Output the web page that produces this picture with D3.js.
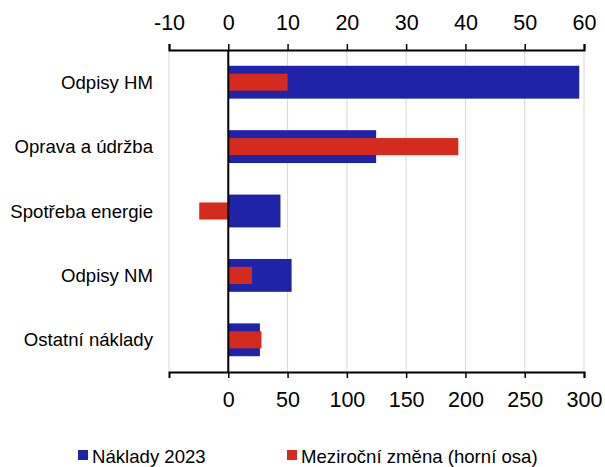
<!DOCTYPE html>
<html lang="cs">
<head>
<meta charset="UTF-8">
<title>Náklady</title>
<script src="https://d3js.org/d3.v7.min.js"></script>
<style>
  html, body { margin: 0; background: #fff; overflow: hidden; }
  text { font-family: Arial, "Liberation Sans", sans-serif; fill: #000; }
</style>
</head>
<body>
<div id="vis"></div>
<script>
var categories = ["Odpisy HM", "Oprava a údržba", "Spotřeba energie", "Odpisy NM", "Ostatní náklady"];
var costs2023 = [296, 124.7, 44, 53.4, 26.7];
var yoyChange = [10, 38.8, -4.9, 4.0, 5.6];
var bottomTicks = [0, 50, 100, 150, 200, 250, 300];
var topTicks = [-10, 0, 10, 20, 30, 40, 50, 60];
var seriesNames = ["Náklady 2023", "Meziroční změna (horní osa)"];

var blue = "#1f23a8", red = "#d52b1f";
var width = 605, height = 467;
var margin = { top: 50, bottom: 95, left: 169, right: 21 };

var svg = d3.select("#vis").append("svg")
    .attr("width", width)
    .attr("height", height);

var x_bottom = d3.scaleLinear().domain([-50, 300]).range([margin.left, width - margin.right]);
var x_top = d3.scaleLinear().domain([-10, 60]).range([margin.left, width - margin.right]);
var y = d3.scaleBand().domain(categories).range([margin.top, height - margin.bottom]);

// grid
svg.append("g").selectAll("line").data(topTicks).enter().append("line")
    .attr("x1", function(d) { return x_top(d); })
    .attr("x2", function(d) { return x_top(d); })
    .attr("y1", margin.top)
    .attr("y2", height - margin.bottom)
    .attr("stroke", "#d9d9d9")
    .attr("stroke-width", 1);

// blue bars (bottom axis)
var bh = y.bandwidth() * 0.51;
svg.append("g").selectAll("rect").data(categories).enter().append("rect")
    .attr("x", function(d, i) { return x_bottom(Math.min(0, costs2023[i])); })
    .attr("width", function(d, i) { return Math.abs(x_bottom(costs2023[i]) - x_bottom(0)); })
    .attr("y", function(d) { return y(d) + (y.bandwidth() - bh) / 2; })
    .attr("height", bh)
    .attr("fill", blue);

// red bars (top axis)
var rh = y.bandwidth() * 0.265;
svg.append("g").selectAll("rect").data(categories).enter().append("rect")
    .attr("x", function(d, i) { return x_top(Math.min(0, yoyChange[i])); })
    .attr("width", function(d, i) { return Math.abs(x_top(yoyChange[i]) - x_top(0)); })
    .attr("y", function(d) { return y(d) + (y.bandwidth() - rh) / 2; })
    .attr("height", rh)
    .attr("fill", red);

// zero line
svg.append("line")
    .attr("x1", x_top(0)).attr("x2", x_top(0))
    .attr("y1", margin.top).attr("y2", height - margin.bottom)
    .attr("stroke", "#000").attr("stroke-width", 2);

// axes
var topAxis = d3.axisTop(x_top).tickValues(topTicks).tickSize(6).tickPadding(14)
    .tickFormat(function(d) { return String(d); });
var bottomAxis = d3.axisBottom(x_bottom).tickValues(bottomTicks).tickSize(6).tickPadding(14);

var gt = svg.append("g").attr("transform", "translate(0," + margin.top + ")").call(topAxis);
var gb = svg.append("g").attr("transform", "translate(0," + (height - margin.bottom) + ")").call(bottomAxis);
[gt, gb].forEach(function(g) {
    g.select(".domain").attr("stroke", "#000").attr("stroke-width", 2);
    g.selectAll(".tick line").attr("stroke", "#000").attr("stroke-width", 1.5);
    g.selectAll(".tick text").attr("font-size", 21.5).attr("font-family", "Arial, 'Liberation Sans', sans-serif").attr("fill", "#000");
});

// category labels
svg.append("g").selectAll("text").data(categories).enter().append("text")
    .attr("x", 153)
    .attr("y", function(d) { return y(d) + y.bandwidth() / 2; })
    .attr("dy", "0.35em")
    .attr("text-anchor", "end")
    .attr("font-size", 18.6)
    .text(function(d) { return d; });

// legend (nudged up a little so it is not cut at the bottom edge)
var legendX = [78, 287];
var legend = svg.append("g").selectAll("g").data(seriesNames).enter().append("g")
    .attr("transform", function(d, i) { return "translate(" + legendX[i] + ",450)"; });
legend.append("rect")
    .attr("width", 10).attr("height", 10)
    .attr("fill", function(d, i) { return i === 0 ? blue : red; });
legend.append("text")
    .attr("x", 14).attr("y", 6).attr("dy", "0.38em")
    .attr("font-size", 18.6)
    .text(function(d) { return d; });
</script>
</body>
</html>
